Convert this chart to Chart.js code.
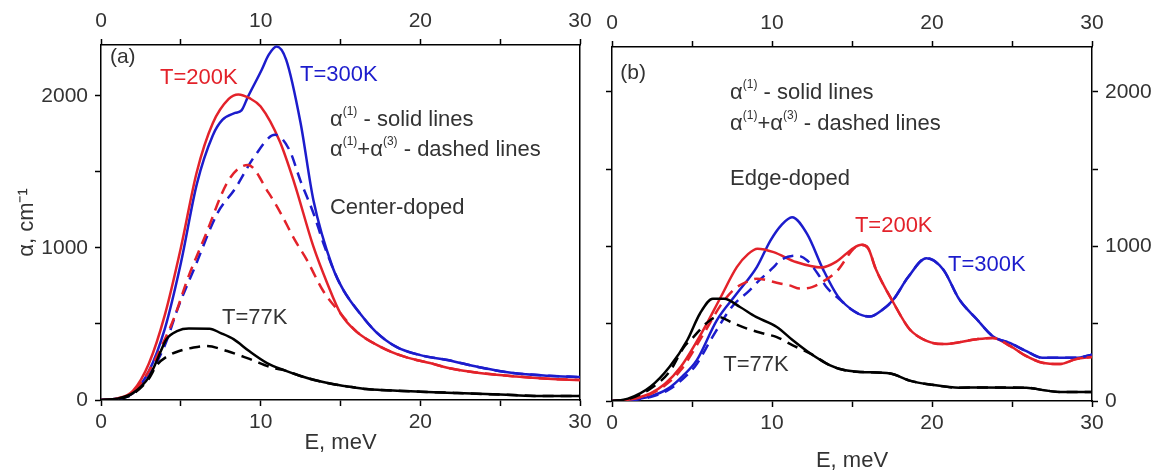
<!DOCTYPE html>
<html>
<head>
<meta charset="utf-8">
<script src="https://cdn.jsdelivr.net/npm/chart.js@4.4.1/dist/chart.umd.min.js"></script>
<style>
    html, body { margin: 0; padding: 0; background: #fff; }
    body { width: 1158px; height: 476px; position: relative; overflow: hidden; }
    canvas { position: absolute; top: 0; }
    #chart-a { left: 0; }
    #chart-b { left: 600px; }
</style>
</head>
<body>
<canvas id="chart-a" width="600" height="476"></canvas>
<canvas id="chart-b" width="558" height="476"></canvas>
<script>
// Absorption alpha (cm^-1) vs photon energy E (meV), pairs of [E, alpha]
// (a) center-doped
const centerRedSolid = [[0,0],[1,10],[2,60],[3,240],[4,560],[5,1000],[6,1500],[7,1820],[8,1980],[8.6,2010],[9.3,1985],[10,1930],[11.2,1700],[12.1,1430],[13.3,1010],[14.2,760],[15,570],[16,450],[17.5,350],[19,285],[20.6,243],[22,205],[23.7,178],[26,155],[28,140],[30,131]];
const centerRedDashed = [[0,0],[1,8],[2,50],[3,190],[4,400],[4.6,546],[5.4,790],[6.5,1072],[8,1447],[9.2,1546],[10.5,1362],[11.3,1220],[12.1,1060],[12.9,920],[13.9,720],[15,570],[16,450],[17.5,350],[19,285],[20.6,243],[22,205],[23.7,178],[26,155],[28,140],[30,131]];
const centerBlueSolid = [[0,0],[1,8],[2,45],[3,190],[4,470],[5,900],[6,1420],[7,1740],[7.6,1842],[8.4,1888],[8.8,1905],[9.2,1994],[10.06,2171],[10.5,2270],[11,2325],[11.6,2237],[12.5,1822],[13.3,1316],[14.5,875],[15.2,720],[16.2,572],[17.2,450],[18.5,349],[20,295],[21.7,263],[23.7,215],[25.8,178],[28,160],[30,151]];
const centerBlueDashed = [[0,0],[1,6],[2,40],[3,160],[4,360],[4.8,600],[5.9,880],[7.3,1230],[8.4,1390],[9.6,1600],[10.9,1744],[11.8,1645],[12.5,1440],[13.3,1230],[14,1010],[14.8,800],[15.2,720],[16.2,572],[17.2,450],[18.5,349],[20,295],[21.7,263],[23.7,215],[25.8,178],[28,160],[30,151]];
const centerBlackSolid = [[0,0],[1,8],[2,45],[3,150],[3.5,260],[4.1,400],[4.8,455],[5.5,470],[6.8,469],[7.5,440],[8.3,400],[9.3,320],[10.4,243],[11.5,195],[12.5,158],[13.5,128],[14.5,105],[15.5,88],[16.6,72],[17.5,66],[20,55],[22.3,46],[25,36],[27.9,26],[30,26]];
const centerBlackDashed = [[0,0],[1,6],[2,40],[3,140],[3.5,230],[4.2,290],[4.9,322],[5.8,345],[6.6,355],[7.9,322],[9.3,270],[10.8,210],[11.5,195],[12.5,158],[13.5,128],[14.5,105],[15.5,88],[16.6,72],[17.5,66],[20,55],[22.3,46],[25,36],[27.9,26],[30,26]];

// (b) edge-doped
const edgeRedSolid = [[0,0],[1,8],[2.4,50],[3.3,110],[4.3,221],[5.7,458],[6.8,673],[7.8,866],[8.5,950],[9.1,985],[10.1,963],[11.5,899],[13.1,864],[14,900],[15.1,990],[15.6,1010],[16,990],[16.5,851],[17.6,634],[18.6,464],[19.7,387],[20.7,368],[22.8,400],[23.8,408],[24.9,355],[25.9,290],[26.9,247],[28,239],[29,271],[30,285]];
const edgeRedDashed = [[0,0],[1,7],[2.4,45],[3.3,100],[4.3,200],[5.7,430],[6.8,620],[7.6,720],[8.4,770],[9.05,791],[10.5,760],[11.1,748],[11.75,727],[12.5,737],[13.3,780],[14.1,845],[15.1,985],[15.6,1010],[16,990],[16.5,851],[17.6,634],[18.6,464],[19.7,387],[20.7,368],[22.8,400],[23.8,408],[24.9,355],[25.9,290],[26.9,247],[28,239],[29,271],[30,285]];
const edgeBlueSolid = [[0,0],[1,4],[2.4,30],[3.5,80],[4.4,160],[5.3,264],[6.55,522],[7.8,695],[9.05,866],[9.9,1038],[10.6,1140],[11.25,1189],[12.2,1080],[13.2,850],[14.1,680],[15.2,576],[16.1,546],[16.9,590],[17.6,658],[18.5,800],[19.65,924],[20.7,851],[21.7,658],[22.8,529],[23.8,419],[24.9,374],[25.9,322],[26.9,279],[29,279],[30,300]];
const edgeBlueDashed = [[0,0],[1,3],[2.4,25],[3.5,70],[4.4,140],[5.3,240],[6.2,400],[7.5,610],[8.6,716],[9.2,780],[10.1,866],[10.5,909],[11.55,941],[12.2,909],[13,802],[13.4,737],[14.2,660],[15.2,576],[16.1,546],[16.9,590],[17.6,658],[18.5,800],[19.65,924],[20.7,851],[21.7,658],[22.8,529],[23.8,419],[24.9,374],[25.9,322],[26.9,279],[29,279],[30,300]];
const edgeBlackSolid = [[0,0],[1,15],[2.4,92],[3.6,221],[4.7,393],[5.5,566],[6.3,662],[7,662],[8,608],[9,544],[10.3,479],[11.3,393],[12.4,307],[13.6,232],[14.5,200],[15.5,188],[17.4,178],[18.6,132],[20,105],[21.7,86],[23,88],[25.9,86],[27,70],[28,58],[30,58]];
const edgeBlackDashed = [[0,0],[1,12],[2.4,80],[3.6,190],[4.5,350],[5.1,415],[5.9,503],[6.6,545],[7.6,503],[8.4,470],[9.4,438],[10.3,413],[11.3,360],[12.4,307],[13.6,232],[14.5,200],[15.5,188],[17.4,178],[18.6,132],[20,105],[21.7,86],[23,88],[25.9,86],[27,70],[28,58],[30,58]];

// axis ranges and ticks
const energyRange = [0, 30];
const energyTicks = [0, 5, 10, 15, 20, 25, 30];
const energyLabels = [0, 10, 20, 30];
const alphaMaxA = 2335;
const alphaMaxB = 2290;
const alphaTicks = [0, 500, 1000, 1500, 2000];
const alphaLabels = [0, 1000, 2000];

const RED = '#e3222a';
const BLUE = '#1c1ccc';
const BLACK = '#000000';
const TEXT = '#333333';
const FONT = "'Liberation Sans', Arial, sans-serif";

Chart.defaults.font.family = FONT;
Chart.defaults.color = TEXT;

// text labels drawn inside the plot, anchored in data coordinates
// parts starting with '^' are superscripts
const notesPlugin = {
    id: 'notes',
    afterDatasetsDraw(chart, args, opts) {
        const ctx = chart.ctx;
        const x = chart.scales.x;
        const y = chart.scales.y;
        ctx.save();
        ctx.textAlign = 'left';
        ctx.textBaseline = 'middle';
        opts.items.forEach(item => {
            let px = x.getPixelForValue(item.e);
            const py = y.getPixelForValue(item.v);
            ctx.fillStyle = item.color || TEXT;
            item.parts.forEach(part => {
                const sup = part.startsWith('^');
                const txt = sup ? part.slice(1) : part;
                ctx.font = (sup ? 12 : (item.size || 22)) + 'px ' + FONT;
                ctx.fillText(txt, px, sup ? py - 8 : py);
                px += ctx.measureText(txt).width;
            });
        });
        ctx.restore();
    }
};

function line(points, color, dashed) {
    return {
        data: points.map(p => ({ x: p[0], y: p[1] })),
        borderColor: color,
        borderWidth: 2.5,
        borderDash: dashed ? [11, 7] : [],
        pointRadius: 0,
        cubicInterpolationMode: 'monotone',
        fill: false
    };
}

function energyAxis(position, boxHeight, pad, title) {
    return {
        type: 'linear',
        position: position,
        min: energyRange[0],
        max: energyRange[1],
        afterBuildTicks: s => { s.ticks = energyTicks.map(v => ({ value: v })); },
        ticks: {
            autoSkip: false,
            maxRotation: 0,
            padding: pad,
            color: TEXT,
            font: { size: 21 },
            callback: v => (energyLabels.includes(v) ? v : '')
        },
        grid: { drawOnChartArea: false, drawTicks: true, tickLength: 6, tickColor: BLACK, tickWidth: 1.5 },
        border: { display: true, color: BLACK, width: 1.5 },
        title: title || { display: false },
        afterFit: s => { s.height = boxHeight; }
    };
}

function alphaAxis(position, max, boxWidth, opts) {
    return {
        type: 'linear',
        position: position,
        min: 0,
        max: max,
        afterBuildTicks: s => { s.ticks = alphaTicks.map(v => ({ value: v })); },
        ticks: {
            display: opts.ticks,
            autoSkip: false,
            padding: 7,
            color: TEXT,
            font: { size: 21 },
            callback: v => (opts.labels && alphaLabels.includes(v) ? v : '')
        },
        grid: { display: opts.ticks, drawOnChartArea: false, drawTicks: true, tickLength: 6, tickColor: BLACK, tickWidth: 1.5 },
        border: { display: true, color: BLACK, width: 1.5 },
        title: opts.title || { display: false },
        afterFit: s => { s.width = boxWidth; }
    };
}

function makePanel(canvasId, datasets, scales, notes) {
    return new Chart(document.getElementById(canvasId), {
        type: 'line',
        data: { datasets: datasets },
        options: {
            responsive: false,
            animation: false,
            parsing: false,
            layout: { padding: 0, autoPadding: false },
            plugins: {
                legend: { display: false },
                tooltip: { enabled: false },
                notes: { items: notes }
            },
            scales: scales
        },
        plugins: [notesPlugin]
    });
}

// (a) center-doped
makePanel('chart-a',
    [
        line(centerBlackDashed, BLACK, true),
        line(centerBlackSolid, BLACK, false),
        line(centerRedDashed, RED, true),
        line(centerBlueDashed, BLUE, true),
        line(centerRedSolid, RED, false),
        line(centerBlueSolid, BLUE, false)
    ],
    {
        x: energyAxis('bottom', 76, 4, { display: true, text: 'E, meV', color: TEXT, font: { size: 22 }, padding: { top: 0, bottom: 20 } }),
        x2: energyAxis('top', 45, 5),
        y: alphaAxis('left', alphaMaxA, 101, {
            ticks: true, labels: true,
            title: { display: true, text: 'α, cm⁻¹', color: TEXT, font: { size: 22 }, padding: { top: 14, bottom: 0 } }
        }),
        y2: alphaAxis('right', alphaMaxA, 20, { ticks: false, labels: false })
    },
    [
        { e: 0.56, v: 2257, parts: ['(a)'], size: 21 },
        { e: 3.7, v: 2119, parts: ['T=200K'], color: RED },
        { e: 12.46, v: 2139, parts: ['T=300K'], color: BLUE },
        { e: 14.34, v: 1842, parts: ['α', '^(1)', ' - solid lines'] },
        { e: 14.34, v: 1645, parts: ['α', '^(1)', '+α', '^(3)', ' - dashed lines'] },
        { e: 14.34, v: 1263, parts: ['Center-doped'] },
        { e: 7.58, v: 540, parts: ['T=77K'] }
    ]
);

// (b) edge-doped
makePanel('chart-b',
    [
        line(edgeBlackDashed, BLACK, true),
        line(edgeBlackSolid, BLACK, false),
        line(edgeRedDashed, RED, true),
        line(edgeBlueDashed, BLUE, true),
        line(edgeRedSolid, RED, false),
        line(edgeBlueSolid, BLUE, false)
    ],
    {
        x: energyAxis('bottom', 75, 4, { display: true, text: 'E, meV', color: TEXT, font: { size: 22 }, padding: { top: 0, bottom: 2 } }),
        x2: energyAxis('top', 47, 5),
        y: alphaAxis('left', alphaMaxB, 12, { ticks: true, labels: false }),
        y2: alphaAxis('right', alphaMaxB, 66, { ticks: true, labels: true })
    },
    [
        { e: 0.52, v: 2122, parts: ['(b)'], size: 21 },
        { e: 7.38, v: 1993, parts: ['α', '^(1)', ' - solid lines'] },
        { e: 7.38, v: 1793, parts: ['α', '^(1)', '+α', '^(3)', ' - dashed lines'] },
        { e: 7.38, v: 1438, parts: ['Edge-doped'] },
        { e: 15.18, v: 1135, parts: ['T=200K'], color: RED },
        { e: 21.0, v: 877, parts: ['T=300K'], color: BLUE },
        { e: 6.95, v: 232, parts: ['T=77K'] }
    ]
);
</script>
</body>
</html>
